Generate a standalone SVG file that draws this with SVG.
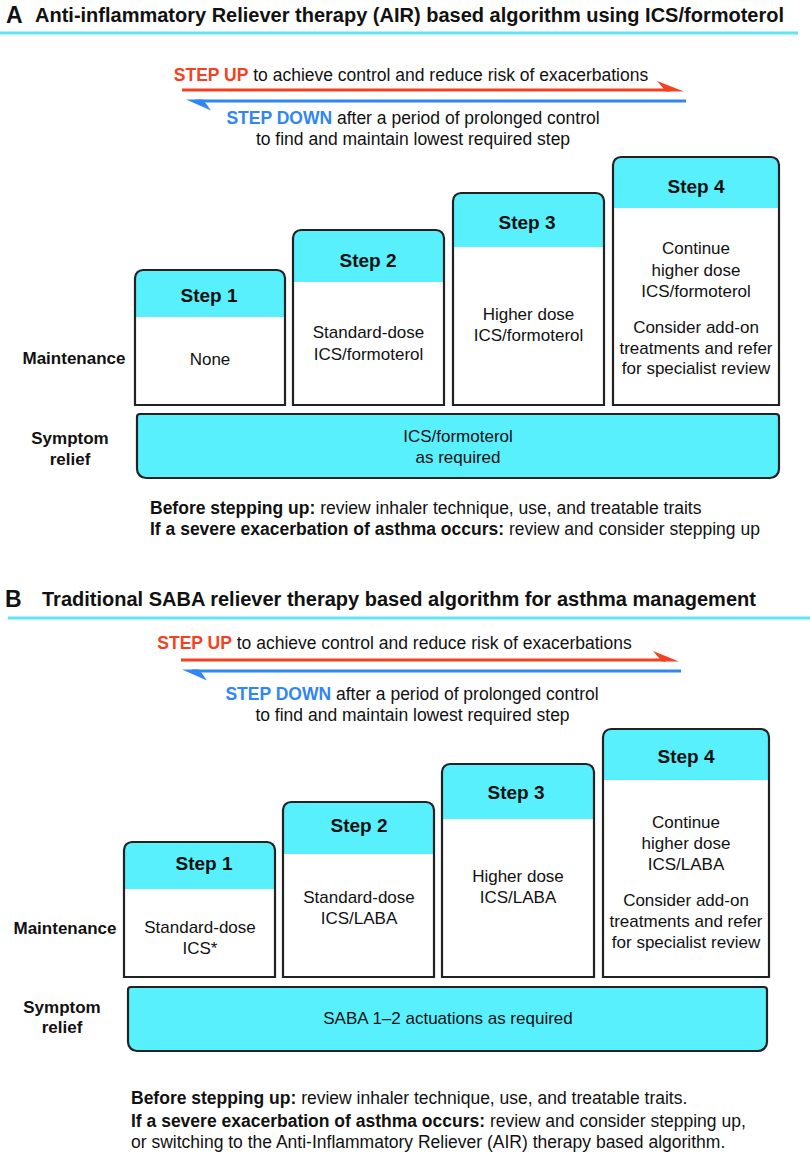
<svg xmlns="http://www.w3.org/2000/svg" width="810" height="1160" viewBox="0 0 810 1160">
<style>
text{font-family:"Liberation Sans",Arial,Helvetica,sans-serif;fill:#111}
.title{font-size:20px;font-weight:bold}
.letter{font-size:23px;font-weight:bold}
.arr{font-size:17.5px}
.b{font-weight:bold}
.up{fill:#f4411f;font-weight:bold}
.down{fill:#2f86f4;font-weight:bold}
.step{font-size:19px;font-weight:bold;text-anchor:middle}
.body{font-size:17px;text-anchor:middle}
.lab{font-size:17px;font-weight:bold;text-anchor:middle}
.note{font-size:17.5px}
.hdr{fill:#58f0fd;stroke:none}
.out{fill:none;stroke:#222;stroke-width:2.2}
.sym{fill:#58f0fd;stroke:#222;stroke-width:2.2}
.rule{stroke:#5ee7f3;stroke-width:3}
.redl{stroke:#f4411f;stroke-width:3}
.bluel{stroke:#2f86f4;stroke-width:3}
</style>
<rect width="810" height="1160" fill="#fff"/>

<!-- Section A -->
<g id="titleA">
<text class="letter" x="6" y="23">A</text>
<text class="title" x="35" y="22">Anti-inflammatory Reliever therapy (AIR) based algorithm using ICS/formoterol</text>
<line class="rule" x1="0" y1="33" x2="798" y2="33"/>
</g>
<g id="connectorsA">
<line class="redl" x1="182" y1="90" x2="670" y2="90"/>
<polygon points="657,81 684,91.5 666,91.5" fill="#f4411f"/>
<line class="bluel" x1="195" y1="101" x2="686" y2="101"/>
<polygon points="186,99.5 211,110.5 203,99.5" fill="#2f86f4"/>
</g>
<g id="arrowTextA">
<text class="arr" x="411" y="81" text-anchor="middle"><tspan class="up">STEP UP</tspan> to achieve control and reduce risk of exacerbations</text>
<text class="arr" x="413" y="124" text-anchor="middle"><tspan class="down">STEP DOWN</tspan> after a period of prolonged control</text>
<text class="arr" x="413" y="145" text-anchor="middle">to find and maintain lowest required step</text>
</g>
<g id="labelsA">
<text class="lab" x="74" y="364">Maintenance</text>
<text class="lab" x="70" y="444">Symptom</text>
<text class="lab" x="70" y="465">relief</text>
</g>
<g id="stepA1">
<rect x="135" y="317" width="150" height="88" fill="#fff"/>
<path class="hdr" d="M135,317 V278 A8,8 0 0 1 143,270 H277 A8,8 0 0 1 285,278 V317 Z"/>
<path class="out" d="M135,405 V278 A8,8 0 0 1 143,270 H277 A8,8 0 0 1 285,278 V405 Z"/>
<text class="step" x="209" y="302">Step 1</text>
<text class="body" x="210" y="365">None</text>
</g>
<g id="stepA2">
<path class="hdr" d="M293,282 V238 A8,8 0 0 1 301,230 H436 A8,8 0 0 1 444,238 V282 Z"/>
<path class="out" d="M293,405 V238 A8,8 0 0 1 301,230 H436 A8,8 0 0 1 444,238 V405 Z"/>
<text class="step" x="368" y="267">Step 2</text>
<text class="body" x="368.5" y="338">Standard-dose</text>
<text class="body" x="368.5" y="360">ICS/formoterol</text>
</g>
<g id="stepA3">
<path class="hdr" d="M453,247 V201 A8,8 0 0 1 461,193 H596 A8,8 0 0 1 604,201 V247 Z"/>
<path class="out" d="M453,405 V201 A8,8 0 0 1 461,193 H596 A8,8 0 0 1 604,201 V405 Z"/>
<text class="step" x="527" y="229">Step 3</text>
<text class="body" x="528.5" y="320">Higher dose</text>
<text class="body" x="528.5" y="341">ICS/formoterol</text>
</g>
<g id="stepA4">
<path class="hdr" d="M613,208 V165 A8,8 0 0 1 621,157 H771 A8,8 0 0 1 779,165 V208 Z"/>
<path class="out" d="M613,405 V165 A8,8 0 0 1 621,157 H771 A8,8 0 0 1 779,165 V405 Z"/>
<text class="step" x="696" y="193">Step 4</text>
<text class="body" x="696" y="254">Continue</text>
<text class="body" x="696" y="276">higher dose</text>
<text class="body" x="696" y="297">ICS/formoterol</text>
<text class="body" x="696" y="333">Consider add-on</text>
<text class="body" x="696" y="354">treatments and refer</text>
<text class="body" x="696" y="374">for specialist review</text>
</g>
<g id="reliefA">
<path class="sym" d="M140,414 H776 A3,3 0 0 1 779,417 V469 A9,9 0 0 1 770,478 H146 A9,9 0 0 1 137,469 V417 A3,3 0 0 1 140,414 Z"/>
<text class="body" x="458" y="442">ICS/formoterol</text>
<text class="body" x="458" y="463">as required</text>
</g>
<g id="notesA">
<text class="note" x="150" y="514"><tspan class="b">Before stepping up:</tspan> review inhaler technique, use, and treatable traits</text>
<text class="note" x="150" y="535"><tspan class="b">If a severe exacerbation of asthma occurs:</tspan> review and consider stepping up</text>
</g>

<!-- Section B -->
<g id="titleB">
<text class="letter" x="5" y="607">B</text>
<text class="title" x="42" y="606">Traditional SABA reliever therapy based algorithm for asthma management</text>
<line class="rule" x1="8" y1="618" x2="810" y2="618"/>
</g>
<g id="connectorsB">
<line class="redl" x1="181" y1="660" x2="666" y2="660"/>
<polygon points="653,651 679,661.5 662,661.5" fill="#f4411f"/>
<line class="bluel" x1="192" y1="671" x2="681" y2="671"/>
<polygon points="182,669.5 207,680.5 199,669.5" fill="#2f86f4"/>
</g>
<g id="arrowTextB">
<text class="arr" x="394.5" y="649" text-anchor="middle"><tspan class="up">STEP UP</tspan> to achieve control and reduce risk of exacerbations</text>
<text class="arr" x="412" y="700" text-anchor="middle"><tspan class="down">STEP DOWN</tspan> after a period of prolonged control</text>
<text class="arr" x="412.5" y="721" text-anchor="middle">to find and maintain lowest required step</text>
</g>
<g id="labelsB">
<text class="lab" x="65" y="934">Maintenance</text>
<text class="lab" x="62" y="1013">Symptom</text>
<text class="lab" x="62" y="1033">relief</text>
</g>
<g id="stepB1">
<path class="hdr" d="M124,889 V850 A8,8 0 0 1 132,842 H267 A8,8 0 0 1 275,850 V889 Z"/>
<path class="out" d="M124,977 V850 A8,8 0 0 1 132,842 H267 A8,8 0 0 1 275,850 V977 Z"/>
<text class="step" x="204" y="870">Step 1</text>
<text class="body" x="200" y="933">Standard-dose</text>
<text class="body" x="200" y="954">ICS*</text>
</g>
<g id="stepB2">
<path class="hdr" d="M283,854 V810 A8,8 0 0 1 291,802 H426 A8,8 0 0 1 434,810 V854 Z"/>
<path class="out" d="M283,977 V810 A8,8 0 0 1 291,802 H426 A8,8 0 0 1 434,810 V977 Z"/>
<text class="step" x="359" y="832">Step 2</text>
<text class="body" x="359" y="903">Standard-dose</text>
<text class="body" x="359" y="924">ICS/LABA</text>
</g>
<g id="stepB3">
<path class="hdr" d="M442,819 V772 A8,8 0 0 1 450,764 H586 A8,8 0 0 1 594,772 V819 Z"/>
<path class="out" d="M442,977 V772 A8,8 0 0 1 450,764 H586 A8,8 0 0 1 594,772 V977 Z"/>
<text class="step" x="516" y="799">Step 3</text>
<text class="body" x="518" y="882">Higher dose</text>
<text class="body" x="518" y="903">ICS/LABA</text>
</g>
<g id="stepB4">
<path class="hdr" d="M603,780 V737 A8,8 0 0 1 611,729 H761 A8,8 0 0 1 769,737 V780 Z"/>
<path class="out" d="M603,977 V737 A8,8 0 0 1 611,729 H761 A8,8 0 0 1 769,737 V977 Z"/>
<text class="step" x="686" y="763">Step 4</text>
<text class="body" x="686" y="828">Continue</text>
<text class="body" x="686" y="849">higher dose</text>
<text class="body" x="686" y="870">ICS/LABA</text>
<text class="body" x="686" y="906">Consider add-on</text>
<text class="body" x="686" y="927">treatments and refer</text>
<text class="body" x="686" y="948">for specialist review</text>
</g>
<g id="reliefB">
<path class="sym" d="M131,987 H764 A3,3 0 0 1 767,990 V1042 A9,9 0 0 1 758,1051 H137 A9,9 0 0 1 128,1042 V990 A3,3 0 0 1 131,987 Z"/>
<text class="body" x="448" y="1024">SABA 1–2 actuations as required</text>
</g>
<g id="notesB">
<text class="note" x="131" y="1104"><tspan class="b">Before stepping up:</tspan> review inhaler technique, use, and treatable traits.</text>
<text class="note" x="131" y="1127"><tspan class="b">If a severe exacerbation of asthma occurs:</tspan> review and consider stepping up,</text>
<text class="note" x="131" y="1148">or switching to the Anti-Inflammatory Reliever (AIR) therapy based algorithm.</text>
</g>
</svg>
